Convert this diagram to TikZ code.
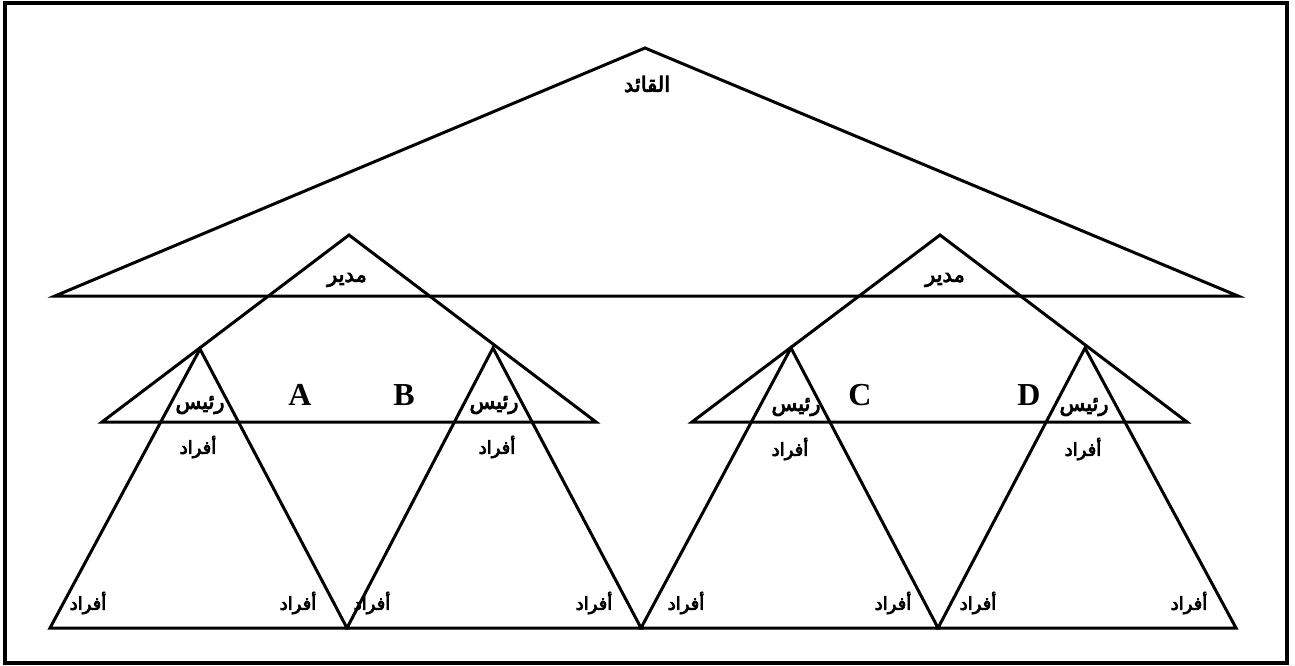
\documentclass[tikz,border=0pt]{standalone}
\usepackage{fontspec}
\setmainfont{Liberation Serif}
\newfontfamily\arabicfont[Script=Arabic,FakeBold=4]{DejaVu Sans}
\TeXXeTstate=1
\begin{document}
\begin{tikzpicture}[x=1pt,y=-1pt,line width=3pt,line join=miter,
  ar/.style={font=\arabicfont\fontsize{18}{18}\selectfont,inner sep=0pt},
  arbig/.style={font=\arabicfont\fontsize{21}{21}\selectfont,inner sep=0pt},
  lt/.style={font=\bfseries\fontsize{32}{32}\selectfont,inner sep=0pt},
  tri/.style={draw,line width=3pt}]
\useasboundingbox (0,0) rectangle (1295,666);
\draw[line width=3.2pt] (5,3) rectangle (1287,663);
% leader triangle
\coordinate (T0) at (645,48);
\coordinate (T0l) at (55,296);
\coordinate (T0r) at (1238,296);
\draw[tri] (T0) -- (T0l) -- (T0r) -- cycle;
% manager triangles
\coordinate (M1) at (349,235);
\coordinate (M1l) at (102,422);
\coordinate (M1r) at (596,422);
\coordinate (M2) at (940,235);
\coordinate (M2l) at (692,422);
\coordinate (M2r) at (1187,422);
\draw[tri] (M1) -- (M1l) -- (M1r) -- cycle;
\draw[tri] (M2) -- (M2l) -- (M2r) -- cycle;
% chief triangles
\coordinate (R1) at (200,349);
\coordinate (R2) at (493,348);
\coordinate (R3) at (791,348);
\coordinate (R4) at (1085,348);
\coordinate (B0) at (50,628);
\coordinate (B1) at (347,628);
\coordinate (B2) at (641,628);
\coordinate (B3) at (938,628);
\coordinate (B4) at (1236,628);
\draw[tri] (R1) -- (B0) -- (B1) -- cycle;
\draw[tri] (R2) -- (B1) -- (B2) -- cycle;
\draw[tri] (R3) -- (B2) -- (B3) -- cycle;
\draw[tri] (R4) -- (B3) -- (B4) -- cycle;
% labels
\node[arbig] (q) at (647,84) {\beginR القائد\endR};
\node[arbig] (m1) at (347,280) {\beginR مدير\endR};
\node[arbig] (m2) at (945,280) {\beginR مدير\endR};
\node[lt] (A) at (300,395) {A};
\node[lt] (B) at (404,395) {B};
\node[lt] (C) at (860,395) {C};
\node[lt] (D) at (1029,395) {D};
\node[arbig] (r1) at (200,405) {\beginR رئيس\endR};
\node[arbig] (r2) at (494,405) {\beginR رئيس\endR};
\node[arbig] (r3) at (796,407) {\beginR رئيس\endR};
\node[arbig] (r4) at (1084,407) {\beginR رئيس\endR};
\node[ar] (f1) at (198,447) {\beginR أفراد\endR};
\node[ar] (f2) at (497,447) {\beginR أفراد\endR};
\node[ar] (f3) at (790,449) {\beginR أفراد\endR};
\node[ar] (f4) at (1083,449) {\beginR أفراد\endR};
\node[ar] (g1) at (88,603) {\beginR أفراد\endR};
\node[ar] (g2) at (298,603) {\beginR أفراد\endR};
\node[ar] (g3) at (372,603) {\beginR أفراد\endR};
\node[ar] (g4) at (594,603) {\beginR أفراد\endR};
\node[ar] (g5) at (686,603) {\beginR أفراد\endR};
\node[ar] (g6) at (893,603) {\beginR أفراد\endR};
\node[ar] (g7) at (978,603) {\beginR أفراد\endR};
\node[ar] (g8) at (1189,603) {\beginR أفراد\endR};
\end{tikzpicture}
\end{document}
